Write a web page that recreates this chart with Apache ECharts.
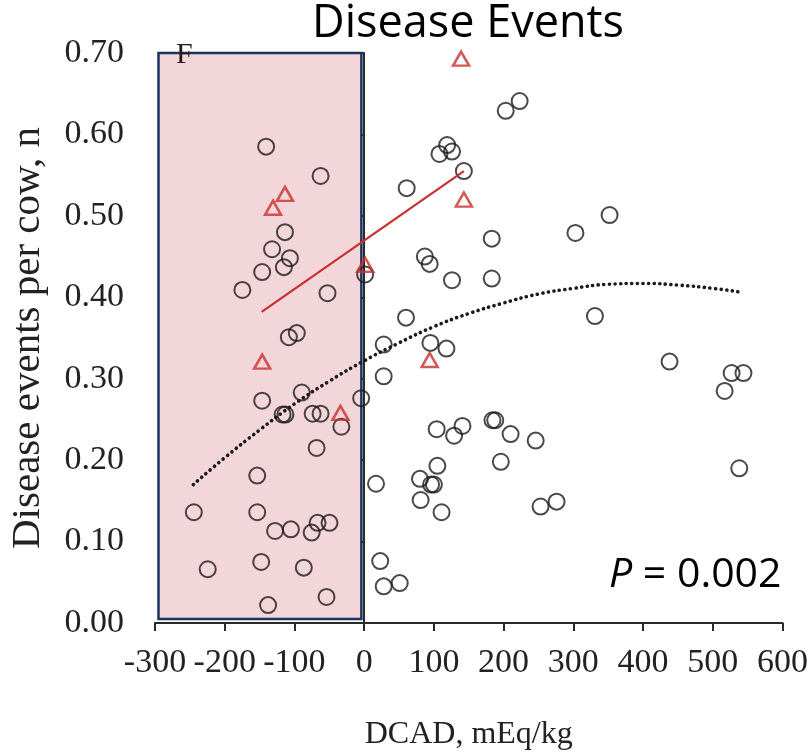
<!DOCTYPE html>
<html>
<head>
<meta charset="utf-8">
<title>Disease Events</title>
<script src="https://cdn.jsdelivr.net/npm/echarts@6/dist/echarts.min.js"></script>
<style>
  html, body { margin: 0; padding: 0; background: #ffffff; }
  #chart { width: 811px; height: 756px; }
</style>
</head>
<body>
<div id="chart"></div>
<script>
// Cow-level observations: DCAD (mEq/kg) against disease events per cow
const cowDcad = [
  -140.6, -62.5, -113.6, -132.1, -106.5, -115.1, -146.3, -174.7, -52.6, -96.6,
  -108.0, -146.3, -89.5, -117.0, -113.0, -73.9, -62.5, -32.7, -4.3, -68.2,
  -153.4, -244.3, -153.4, -127.8, -105.1, -75.3, -66.8, -49.7, -224.4, -147.7,
  -86.6, -137.8, -54.0, 1.4,
  203, 223, 119, 108, 126, 143, 61, 183, 303, 352,
  87, 94, 126, 183, 60, 331, 28, 95, 118, 28,
  104, 141, 129, 184, 188, 210, 246, 196, 105, 80,
  96, 100, 17, 81, 111, 253, 276, 23, 28, 51,
  438, 527, 544, 517, 538
];
const cowEvents = [
  0.585, 0.549, 0.480, 0.459, 0.448, 0.437, 0.431, 0.409, 0.405, 0.356,
  0.351, 0.273, 0.283, 0.256, 0.256, 0.257, 0.257, 0.241, 0.276, 0.215,
  0.181, 0.136, 0.136, 0.113, 0.115, 0.111, 0.123, 0.123, 0.066, 0.075,
  0.068, 0.022, 0.032, 0.428,
  0.629, 0.641, 0.587, 0.576, 0.579, 0.555, 0.534, 0.472, 0.479, 0.501,
  0.450, 0.441, 0.421, 0.423, 0.375, 0.377, 0.342, 0.344, 0.337, 0.303,
  0.238, 0.242, 0.230, 0.249, 0.249, 0.232, 0.224, 0.198, 0.193, 0.177,
  0.170, 0.170, 0.171, 0.151, 0.136, 0.143, 0.149, 0.076, 0.045, 0.049,
  0.321, 0.307, 0.307, 0.285, 0.190
];

// Highlighted subgroup (open triangles)
const groupDcad = [-113.6, -130.7, 1.4, -146.3, -34, 139, 143, 94];
const groupEvents = [0.527, 0.510, 0.440, 0.321, 0.258, 0.693, 0.520, 0.323];

// Subgroup linear trend (end points)
const groupTrendDcad = [-147, 143];
const groupTrendEvents = [0.382, 0.555];

// Overall quadratic trend, points along the curve
const trendDcad = [-245, -200, -150, -100, -50, 0, 50, 100, 150, 200, 250, 300, 350, 400, 450, 500, 543];
const trendEvents = [0.170, 0.203, 0.237, 0.269, 0.297, 0.322, 0.344, 0.364, 0.380, 0.393, 0.404, 0.411, 0.416, 0.417, 0.415, 0.411, 0.406];

// Shaded negative-DCAD band
const bandDcad = [-295, -4];
const bandEvents = [0.005, 0.70];

const xTicks = { min: -300, max: 600, step: 100 };
const yTicks = { min: 0, max: 0.7, step: 0.1 };

const zip = (a, b) => a.map((v, i) => [v, b[i]]);

const serif = '"Liberation Serif", "DejaVu Serif", serif';
const sans = '"Open Sans", "Liberation Sans", sans-serif';

const chart = echarts.init(document.getElementById('chart'), null, { renderer: 'canvas' });

chart.setOption({
  animation: false,
  backgroundColor: '#ffffff',
  grid: { left: 154, right: 23, top: 53, bottom: 133, containLabel: false },
  xAxis: {
    type: 'value',
    min: xTicks.min, max: xTicks.max, interval: xTicks.step,
    name: 'DCAD, mEq/kg',
    nameLocation: 'middle',
    nameGap: 96,
    nameTextStyle: { fontFamily: serif, fontSize: 32, color: '#222' },
    axisLine: { show: true, onZero: false, lineStyle: { color: '#2a2a2a', width: 2 } },
    axisTick: { show: true, inside: false, length: 8, lineStyle: { color: '#2a2a2a', width: 2 } },
    axisLabel: { fontFamily: serif, fontSize: 34, color: '#222', margin: 23 },
    splitLine: { show: false }
  },
  yAxis: {
    type: 'value',
    min: yTicks.min, max: yTicks.max, interval: yTicks.step,
    name: 'Disease events per cow, n',
    nameLocation: 'middle',
    nameGap: 106,
    nameTextStyle: { fontFamily: serif, fontSize: 41, color: '#222' },
    axisLine: { show: true, lineStyle: { color: '#2a2a2a', width: 2 } },
    axisTick: { show: true, inside: false, length: 8, lineStyle: { color: '#2a2a2a', width: 2 } },
    axisLabel: {
      fontFamily: serif, fontSize: 34, color: '#222', margin: 31,
      formatter: v => v.toFixed(2)
    },
    splitLine: { show: false }
  },
  series: [
    {
      name: 'band',
      type: 'line',
      data: [],
      silent: true,
      markArea: {
        silent: true,
        itemStyle: { color: '#f3d6d9', borderColor: '#1c3361', borderWidth: 2.5, opacity: 1 },
        data: [[
          { coord: [bandDcad[0], bandEvents[0]] },
          { coord: [bandDcad[1], bandEvents[1]] }
        ]]
      },
      z: 1
    },
    {
      name: 'cows',
      type: 'scatter',
      data: zip(cowDcad, cowEvents),
      symbol: 'circle',
      symbolSize: 16,
      itemStyle: { color: 'rgba(0,0,0,0)', borderColor: '#1e1a1a', borderWidth: 2 },
      z: 3
    },
    {
      name: 'subgroup',
      type: 'scatter',
      data: zip(groupDcad, groupEvents),
      symbol: 'triangle',
      symbolSize: [16, 14],
      itemStyle: { color: 'rgba(0,0,0,0)', borderColor: '#c8302e', borderWidth: 2.5 },
      z: 4
    },
    {
      name: 'subgroup trend',
      type: 'line',
      data: zip(groupTrendDcad, groupTrendEvents),
      showSymbol: false,
      lineStyle: { color: '#c8302e', width: 2.2 },
      z: 4
    },
    {
      name: 'overall trend',
      type: 'line',
      data: zip(trendDcad, trendEvents),
      smooth: true,
      showSymbol: false,
      lineStyle: { color: '#1a1a1a', width: 3.6, type: [0.1, 5.5], cap: 'round' },
      z: 3
    }
  ],
  graphic: [
    {
      type: 'text',
      x: 468,
      y: 2,
      style: { text: 'Disease Events', font: '45px ' + sans, fill: '#000', textAlign: 'center' }
    },
    {
      type: 'text',
      x: 176, y: 40,
      style: { text: 'F', font: '30px ' + serif, fill: '#2a1a1a' },
      z: 10
    },
    {
      type: 'text',
      x: 609, y: 555,
      style: {
        text: '{i|P} = 0.002',
        font: '41px ' + sans,
        fill: '#000',
        rich: {
          i: { fontStyle: 'italic', fontFamily: sans, fontSize: 41, fill: '#000' }
        }
      },
      z: 10
    }
  ]
});
</script>
</body>
</html>
